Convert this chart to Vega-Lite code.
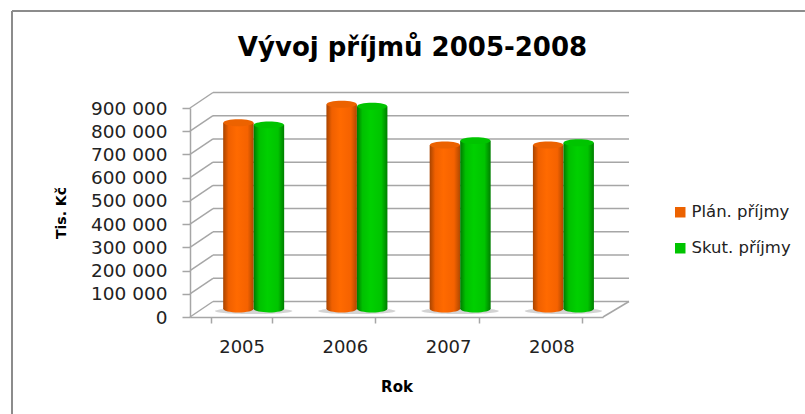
{"$schema":"https://vega.github.io/schema/vega-lite/v6.json","width":413,"height":209,"autosize":{"type":"none"},"padding":{"left":190,"top":108,"right":202,"bottom":97},"background":"white","config":{"view":{"stroke":null},"font":"DejaVu Sans","style":{"guide-title":{"fontSize":14}},"axis":{"titleFontSize":14},"axisY":{"titleFont":"DejaVu Sans","titleFontSize":14,"titleFontWeight":"bold","titleColor":"#000","titlePadding":22,"labelOverlap":false,"labelExpr":"replace(format(datum.value,','),',',' ')","labelFontSize":18.5,"labelColor":"#222","labelPadding":15,"tickColor":"#a6a6a6","tickWidth":1.5,"tickSize":8,"domainColor":"#a6a6a6","domainWidth":1.5,"grid":false}},"title":{"text":"Vývoj příjmů 2005-2008","anchor":"middle","dx":16,"offset":-51,"font":"DejaVu Sans","fontSize":26,"fontWeight":"bold","color":"#000000"},"datasets":{"bars":[{"year":"2005","series":"Plán. příjmy","value":802000},{"year":"2005","series":"Skut. příjmy","value":793000},{"year":"2006","series":"Plán. příjmy","value":882000},{"year":"2006","series":"Skut. příjmy","value":873000},{"year":"2007","series":"Plán. příjmy","value":706000},{"year":"2007","series":"Skut. příjmy","value":725000},{"year":"2008","series":"Plán. příjmy","value":706000},{"year":"2008","series":"Skut. příjmy","value":716000}],"levels":[{"v":0},{"v":100000},{"v":200000},{"v":300000},{"v":400000},{"v":500000},{"v":600000},{"v":700000},{"v":800000},{"v":900000}]},"resolve":{"scale":{"x":"independent"},"axis":{"x":"independent"}},"layer":[{"data":{"values":[{"v":0}]},"mark":{"type":"rule","stroke":"#8c8c8c","strokeWidth":2},"encoding":{"x":{"datum":-1.724,"type":"quantitative","scale":{"domain":[0,4]},"axis":null},"x2":{"datum":5.956},"y":{"datum":1317700,"type":"quantitative","scale":{"domain":[0,900000]},"axis":{"title":"Tis. Kč","titleFontSize":14,"values":[0,100000,200000,300000,400000,500000,600000,700000,800000,900000]}}}},{"data":{"values":[{"v":0}]},"mark":{"type":"rule","stroke":"#8c8c8c","strokeWidth":2},"encoding":{"x":{"datum":-1.724,"type":"quantitative","scale":{"domain":[0,4]},"axis":null},"y":{"datum":1317700,"type":"quantitative","scale":{"domain":[0,900000]},"axis":{"title":"Tis. Kč","titleFontSize":14,"values":[0,100000,200000,300000,400000,500000,600000,700000,800000,900000]}},"y2":{"datum":-417700}}},{"data":{"name":"levels"},"mark":{"type":"rule","stroke":"#a6a6a6","strokeWidth":1.5,"xOffset":23,"x2Offset":26,"yOffset":-15.5,"y2Offset":-15.5},"encoding":{"x":{"datum":0,"type":"quantitative","scale":{"domain":[0,4]},"axis":null},"x2":{"datum":4},"y":{"field":"v","type":"quantitative","scale":{"domain":[0,900000]},"axis":{"title":"Tis. Kč","titleFontSize":14,"values":[0,100000,200000,300000,400000,500000,600000,700000,800000,900000]}}}},{"data":{"name":"levels"},"mark":{"type":"rule","stroke":"#a6a6a6","strokeWidth":1.5,"x2Offset":23,"y2Offset":-15.5},"encoding":{"x":{"datum":0,"type":"quantitative","scale":{"domain":[0,4]},"axis":null},"x2":{"datum":0},"y":{"field":"v","type":"quantitative","scale":{"domain":[0,900000]},"axis":{"title":"Tis. Kč","titleFontSize":14,"values":[0,100000,200000,300000,400000,500000,600000,700000,800000,900000]}},"y2":{"field":"v"}}},{"data":{"values":[{"v":0}]},"mark":{"type":"rule","stroke":"#a6a6a6","strokeWidth":1.5,"x2Offset":26,"y2Offset":-15.5},"encoding":{"x":{"datum":4,"type":"quantitative","scale":{"domain":[0,4]},"axis":null},"x2":{"datum":4},"y":{"field":"v","type":"quantitative","scale":{"domain":[0,900000]},"axis":{"title":"Tis. Kč","titleFontSize":14,"values":[0,100000,200000,300000,400000,500000,600000,700000,800000,900000]}},"y2":{"field":"v"}}},{"data":{"name":"bars"},"mark":{"type":"point","filled":true,"opacity":0.2,"shape":"M-1,0A1,0.08,0,1,1,1,0A1,0.08,0,1,1,-1,0Z","size":6000,"fill":"#888888","xOffset":12,"yOffset":-6},"encoding":{"x":{"field":"year","type":"nominal","scale":{"paddingInner":0.41,"paddingOuter":0.205},"axis":{"title":"Rok","titleFont":"DejaVu Sans","titleFontSize":15,"titleFontWeight":"bold","titleColor":"#000","titlePadding":23,"labelAngle":0,"labelFontSize":18,"labelColor":"#222","labelPadding":15,"tickBand":"extent","tickColor":"#a6a6a6","tickWidth":1.5,"tickSize":6,"domainColor":"#a6a6a6","domainWidth":1.5}},"y":{"datum":0,"type":"quantitative","scale":{"domain":[0,900000]},"axis":{"title":"Tis. Kč","titleFontSize":14,"values":[0,100000,200000,300000,400000,500000,600000,700000,800000,900000]}}}},{"data":{"name":"bars"},"transform":[{"filter":"datum.series=='Plán. příjmy'"}],"mark":{"type":"bar","yOffset":-8,"y2Offset":-8,"fill":{"gradient":"linear","x1":0,"x2":1,"y1":0,"y2":0,"stops":[{"offset":0,"color":"#a84400"},{"offset":0.18,"color":"#f06000"},{"offset":0.45,"color":"#ff6a00"},{"offset":0.8,"color":"#f56200"},{"offset":1,"color":"#b04800"}]}},"encoding":{"x":{"field":"year","type":"nominal","axis":null,"scale":{"paddingInner":0.41,"paddingOuter":0.205}},"xOffset":{"field":"series","type":"nominal","scale":{"domain":["Plán. příjmy","Skut. příjmy"],"range":[12,73]}},"y":{"field":"value","type":"quantitative","scale":{"domain":[0,900000]},"axis":{"title":"Tis. Kč","titleFontSize":14,"values":[0,100000,200000,300000,400000,500000,600000,700000,800000,900000]}}}},{"data":{"name":"bars"},"transform":[{"filter":"datum.series=='Skut. příjmy'"}],"mark":{"type":"bar","yOffset":-8,"y2Offset":-8,"fill":{"gradient":"linear","x1":0,"x2":1,"y1":0,"y2":0,"stops":[{"offset":0,"color":"#007a00"},{"offset":0.18,"color":"#00c000"},{"offset":0.45,"color":"#00d000"},{"offset":0.8,"color":"#00c400"},{"offset":1,"color":"#007e00"}]}},"encoding":{"x":{"field":"year","type":"nominal","axis":null,"scale":{"paddingInner":0.41,"paddingOuter":0.205}},"xOffset":{"field":"series","type":"nominal","scale":{"domain":["Plán. příjmy","Skut. příjmy"],"range":[12,73]}},"y":{"field":"value","type":"quantitative","scale":{"domain":[0,900000]},"axis":{"title":"Tis. Kč","titleFontSize":14,"values":[0,100000,200000,300000,400000,500000,600000,700000,800000,900000]}}}},{"data":{"name":"bars"},"transform":[{"filter":"datum.series=='Plán. příjmy'"}],"mark":{"type":"point","filled":true,"shape":"M-1,0A1,0.23,0,1,1,1,0A1,0.23,0,1,1,-1,0Z","size":900,"yOffset":-8,"opacity":1,"fill":{"gradient":"linear","x1":0,"x2":1,"y1":0,"y2":0,"stops":[{"offset":0,"color":"#a84400"},{"offset":0.18,"color":"#f06000"},{"offset":0.45,"color":"#ff6a00"},{"offset":0.8,"color":"#f56200"},{"offset":1,"color":"#b04800"}]}},"encoding":{"x":{"field":"year","type":"nominal","axis":null,"scale":{"paddingInner":0.41,"paddingOuter":0.205}},"xOffset":{"field":"series","type":"nominal","scale":{"domain":["Plán. příjmy","Skut. příjmy"],"range":[12,73]}},"y":{"datum":0,"type":"quantitative","scale":{"domain":[0,900000]},"axis":{"title":"Tis. Kč","titleFontSize":14,"values":[0,100000,200000,300000,400000,500000,600000,700000,800000,900000]}}}},{"data":{"name":"bars"},"transform":[{"filter":"datum.series=='Skut. příjmy'"}],"mark":{"type":"point","filled":true,"shape":"M-1,0A1,0.23,0,1,1,1,0A1,0.23,0,1,1,-1,0Z","size":900,"yOffset":-8,"opacity":1,"fill":{"gradient":"linear","x1":0,"x2":1,"y1":0,"y2":0,"stops":[{"offset":0,"color":"#007a00"},{"offset":0.18,"color":"#00c000"},{"offset":0.45,"color":"#00d000"},{"offset":0.8,"color":"#00c400"},{"offset":1,"color":"#007e00"}]}},"encoding":{"x":{"field":"year","type":"nominal","axis":null,"scale":{"paddingInner":0.41,"paddingOuter":0.205}},"xOffset":{"field":"series","type":"nominal","scale":{"domain":["Plán. příjmy","Skut. příjmy"],"range":[12,73]}},"y":{"datum":0,"type":"quantitative","scale":{"domain":[0,900000]},"axis":{"title":"Tis. Kč","titleFontSize":14,"values":[0,100000,200000,300000,400000,500000,600000,700000,800000,900000]}}}},{"data":{"name":"bars"},"mark":{"type":"point","filled":true,"shape":"M-1,0A1,0.23,0,1,1,1,0A1,0.23,0,1,1,-1,0Z","size":900,"yOffset":-8,"opacity":1},"encoding":{"x":{"field":"year","type":"nominal","axis":null,"scale":{"paddingInner":0.41,"paddingOuter":0.205}},"xOffset":{"field":"series","type":"nominal","scale":{"domain":["Plán. příjmy","Skut. příjmy"],"range":[12,73]}},"y":{"field":"value","type":"quantitative","scale":{"domain":[0,900000]},"axis":{"title":"Tis. Kč","titleFontSize":14,"values":[0,100000,200000,300000,400000,500000,600000,700000,800000,900000]}},"color":{"field":"series","type":"nominal","scale":{"domain":["Plán. příjmy","Skut. příjmy"],"range":["#ec6200","#00c400"]},"legend":{"title":null,"orient":"none","legendX":482,"legendY":96,"labelFontSize":16.5,"labelFont":"DejaVu Sans","labelColor":"#222","symbolType":"square","symbolSize":110,"symbolOpacity":1,"rowPadding":19,"labelOffset":3}}}}]}
